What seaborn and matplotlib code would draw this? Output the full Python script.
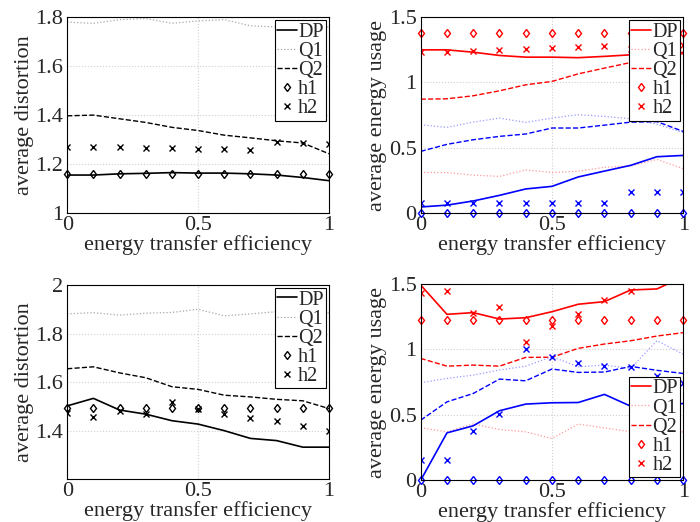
import numpy as np
import matplotlib
matplotlib.use("Agg")
import matplotlib.pyplot as plt
import seaborn as sns

# energy transfer efficiency
eff = np.round(np.arange(0, 1.01, 0.1), 1)

# panel 1: average distortion (top)
d1_dp = [1.155, 1.155, 1.16, 1.162, 1.165, 1.163, 1.163, 1.16, 1.155, 1.145, 1.132]
d1_q1 = [1.78, 1.775, 1.79, 1.795, 1.775, 1.785, 1.79, 1.765, 1.76, 1.765, 1.76]
d1_q2 = [1.397, 1.40, 1.385, 1.37, 1.35, 1.337, 1.318, 1.307, 1.295, 1.286, 1.242]
d1_h1 = [1.16] * 11
d1_h2 = [1.271, 1.271, 1.27, 1.267, 1.264, 1.261, 1.26, 1.258, 1.29, 1.286, 1.283]

# panel 2: average energy usage (top), red / blue
e1_dp_r = [1.25, 1.25, 1.232, 1.207, 1.194, 1.194, 1.19, 1.2, 1.212, 1.22, 1.23]
e1_q1_r = [0.31, 0.31, 0.29, 0.28, 0.33, 0.31, 0.32, 0.35, 0.36, 0.41, 0.34]
e1_q2_r = [0.872, 0.875, 0.898, 0.936, 0.982, 1.008, 1.066, 1.11, 1.153, 1.19, 1.22]
e1_h1_r = [1.378] * 11
e1_h2_r = [1.232, 1.232, 1.242, 1.25, 1.258, 1.263, 1.27, 1.276, 1.26, 1.28, 1.288]
e1_dp_b = [0.046, 0.06, 0.092, 0.135, 0.184, 0.204, 0.276, 0.321, 0.365, 0.431, 0.441]
e1_q1_b = [0.676, 0.656, 0.696, 0.727, 0.694, 0.727, 0.753, 0.74, 0.722, 0.68, 0.617]
e1_q2_b = [0.472, 0.526, 0.561, 0.587, 0.605, 0.651, 0.651, 0.673, 0.696, 0.70, 0.625]
e1_h1_b = [0.0] * 11
e1_h2_b = [0.077, 0.077, 0.077, 0.077, 0.077, 0.077, 0.077, 0.077, 0.158, 0.158, 0.158]

# panel 3: average distortion (bottom)
d2_dp = [1.502, 1.533, 1.485, 1.468, 1.441, 1.427, 1.40, 1.368, 1.359, 1.332, 1.332]
d2_q1 = [1.881, 1.886, 1.876, 1.884, 1.887, 1.90, 1.873, 1.881, 1.89, 1.885, 1.885]
d2_q2 = [1.655, 1.663, 1.638, 1.618, 1.581, 1.57, 1.546, 1.539, 1.529, 1.523, 1.491]
d2_h1 = [1.492] * 11
d2_h2 = [1.471, 1.458, 1.479, 1.468, 1.518, 1.491, 1.468, 1.452, 1.438, 1.418, 1.40]

# panel 4: average energy usage (bottom), red / blue
e2_dp_r = [1.492, 1.268, 1.281, 1.232, 1.242, 1.288, 1.345, 1.365, 1.454, 1.462, 1.555]
e2_q1_r = [0.401, 0.37, 0.43, 0.388, 0.37, 0.319, 0.429, 0.40, 0.37, 0.37, 0.37]
e2_q2_r = [0.931, 0.872, 0.88, 0.872, 0.939, 0.94, 1.008, 1.041, 1.066, 1.102, 1.128]
e2_h1_r = [1.228] * 11
e2_h2_r = [1.429, 1.446, 1.28, 1.326, 1.058, 1.18, 1.27, 1.378, 1.446, 1.58, 1.58]
e2_dp_b = [0.0, 0.362, 0.416, 0.531, 0.582, 0.592, 0.594, 0.656, 0.566, 0.56, 0.587]
e2_q1_b = [0.745, 0.778, 0.804, 0.842, 0.872, 0.944, 0.867, 0.88, 0.855, 1.066, 0.964]
e2_q2_b = [0.459, 0.599, 0.663, 0.773, 0.76, 0.85, 0.824, 0.827, 0.87, 0.84, 0.816]
e2_h1_b = [0.0] * 11
e2_h2_b = [0.153, 0.153, 0.375, 0.503, 1.0, 0.939, 0.893, 0.875, 0.867, 0.80, 0.74]

sns.set_style("white")
plt.rcParams["font.family"] = ["Liberation Serif", "DejaVu Serif"]
FS = 16

fig = plt.figure(figsize=(7, 5.22), dpi=100)
ax1 = fig.add_axes([0.096, 0.592, 0.374, 0.375])
ax2 = fig.add_axes([0.601, 0.592, 0.375, 0.375])
ax3 = fig.add_axes([0.096, 0.082, 0.374, 0.372])
ax4 = fig.add_axes([0.601, 0.080, 0.375, 0.376])


def draw_set(ax, dp, q1, q2, h1, h2, col, light, label=True):
    lab = (lambda s: s) if label else (lambda s: "_nolegend_")
    sns.lineplot(x=eff, y=dp, ax=ax, color=col, lw=1.2, label=lab("DP"))
    sns.lineplot(x=eff, y=q1, ax=ax, color=light, lw=0.9, ls=":", label=lab("Q1"))
    sns.lineplot(x=eff, y=q2, ax=ax, color=col, lw=1.0, ls="--", label=lab("Q2"))
    sns.lineplot(x=eff, y=h1, ax=ax, color=col, ls="none", marker="d", ms=4.5,
                 mfc="none", mec=col, mew=1.0, clip_on=False, label=lab("h1"))
    sns.lineplot(x=eff, y=h2, ax=ax, color=col, ls="none", marker="x", ms=4,
                 mec=col, mew=1.0, label=lab("h2"))


draw_set(ax1, d1_dp, d1_q1, d1_q2, d1_h1, d1_h2, "black", "#a8a8a8")
draw_set(ax2, e1_dp_r, e1_q1_r, e1_q2_r, e1_h1_r, e1_h2_r, "red", "#ff9a9a")
draw_set(ax2, e1_dp_b, e1_q1_b, e1_q2_b, e1_h1_b, e1_h2_b, "blue", "#9a9aff", label=False)
draw_set(ax3, d2_dp, d2_q1, d2_q2, d2_h1, d2_h2, "black", "#a8a8a8")
draw_set(ax4, e2_dp_r, e2_q1_r, e2_q2_r, e2_h1_r, e2_h2_r, "red", "#ff9a9a")
draw_set(ax4, e2_dp_b, e2_q1_b, e2_q2_b, e2_h1_b, e2_h2_b, "blue", "#9a9aff", label=False)

limits = {ax1: (1.0, 1.8, [1, 1.2, 1.4, 1.6, 1.8], ["1", "1.2", "1.4", "1.6", "1.8"]),
          ax2: (0, 1.5, [0, 0.5, 1, 1.5], ["0", "0.5", "1", "1.5"]),
          ax3: (1.2, 2.0, [1.4, 1.6, 1.8, 2.0], ["1.4", "1.6", "1.8", "2"]),
          ax4: (0, 1.5, [0, 0.5, 1, 1.5], ["0", "0.5", "1", "1.5"])}
ylabels = {ax1: "average distortion", ax2: "average energy usage",
           ax3: "average distortion", ax4: "average energy usage"}

for ax, (lo, hi, ticks, tl) in limits.items():
    ax.set_xlim(0, 1)
    ax.set_ylim(lo, hi)
    ax.set_xticks([0, 0.5, 1])
    ax.set_xticklabels(["0", "0.5", "1"], fontsize=FS)
    ax.set_yticks(ticks)
    ax.set_yticklabels(tl, fontsize=FS)
    ax.tick_params(axis="x", direction="in", length=3, width=0.6, pad=2)
    ax.tick_params(axis="y", direction="in", length=3, width=0.6, pad=3)
    ax.grid(True, ls=":", color="#d0d0d0", lw=0.8)
    ax.set_xlabel("energy transfer efficiency", fontsize=FS, labelpad=0)
    ax.set_ylabel(ylabels[ax], fontsize=FS, labelpad=1)
    for s in ax.spines.values():
        s.set_color("black")
        s.set_linewidth(0.8)

for ax, loc in [(ax1, "upper right"), (ax2, "upper right"), (ax3, "upper right"), (ax4, "lower right")]:
    leg = ax.legend(loc=loc, fontsize=14.5, frameon=True, fancybox=False, handlelength=1.0,
                    handletextpad=0.05, borderpad=0.12, labelspacing=0.0, borderaxespad=0.15)
    leg.get_frame().set_edgecolor("black")
    leg.get_frame().set_linewidth(0.8)
    leg.get_frame().set_alpha(1)

fig.savefig("out.png", dpi=100)
